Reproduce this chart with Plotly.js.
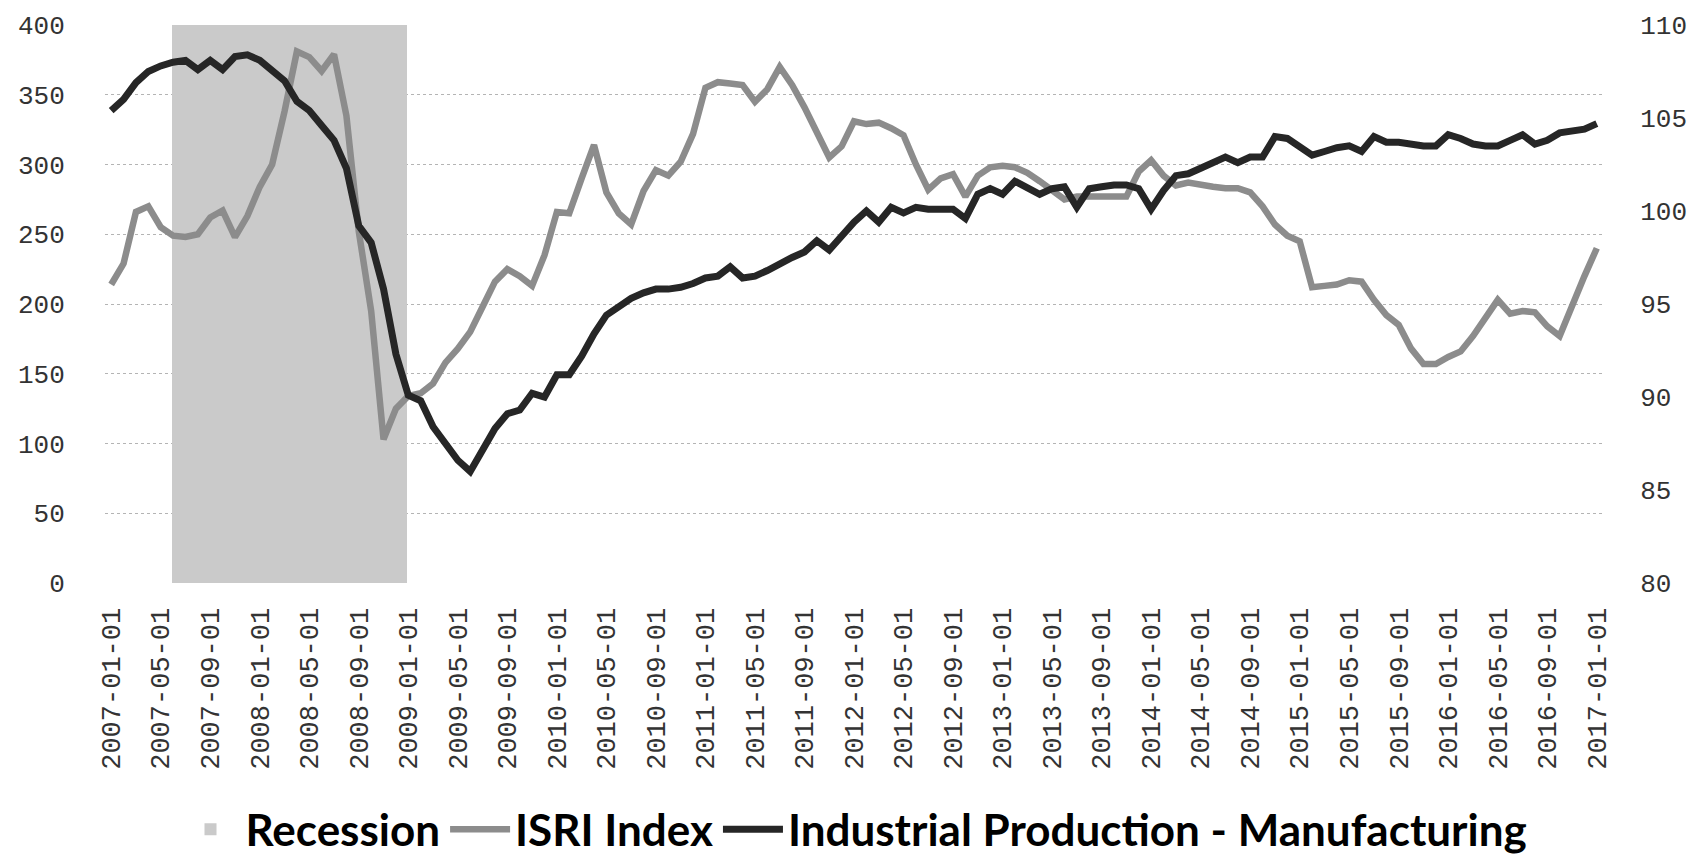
<!DOCTYPE html>
<html>
<head>
<meta charset="utf-8">
<script src="https://cdn.plot.ly/plotly-3.0.1.min.js"></script>
<style>html,body{margin:0;padding:0;background:#fff;}#chart{width:1703px;height:866px;}</style>
</head>
<body>
<div id="chart"></div>
<script>
// Monthly categories 2007-01-01 .. 2017-01-01
var months = [];
for (var y = 2007; y <= 2017; y++) {
  for (var m = 1; m <= 12; m++) {
    if (y === 2017 && m > 1) break;
    months.push(y + '-' + (m < 10 ? '0' + m : m) + '-01');
  }
}

var tickLabels = [
  '2007-01-01','2007-05-01','2007-09-01','2008-01-01','2008-05-01','2008-09-01',
  '2009-01-01','2009-05-01','2009-09-01','2010-01-01','2010-05-01','2010-09-01',
  '2011-01-01','2011-05-01','2011-09-01','2012-01-01','2012-05-01','2012-09-01',
  '2013-01-01','2013-05-01','2013-09-01','2014-01-01','2014-05-01','2014-09-01',
  '2015-01-01','2015-05-01','2015-09-01','2016-01-01','2016-05-01','2016-09-01',
  '2017-01-01'
];

var isriIndex = [
  214, 229, 266, 270, 255, 249, 248, 250, 262, 267,
  248, 263, 284, 300, 338, 381, 377, 367, 379, 335,
  252, 195, 103, 125, 134, 136, 143, 158, 168, 180,
  198, 216, 225, 220, 213, 235, 266, 265, 290, 314,
  280, 265, 257, 281, 296, 292, 302, 322, 355, 359,
  358, 357, 345, 354, 370, 357, 341, 323, 305, 313,
  331, 329, 330, 326, 321, 300, 282, 290, 293, 277,
  292, 298, 299, 298, 294, 288, 282, 275, 277, 277,
  277, 277, 277, 295, 303, 292, 285, 287, 285, 284,
  283, 283, 280, 270, 257, 249, 245, 212, 213, 214,
  217, 216, 203, 192, 185, 168, 157, 157, 162, 166,
  177, 191, 203, 193, 195, 194, 184, 177, 200, 220,
  240
];

var industrialProduction = [
  105.4, 106.0, 106.9, 107.5, 107.8, 108.0, 108.1, 107.6, 108.1, 107.6,
  108.3, 108.4, 108.1, 107.5, 107.0, 105.9, 105.4, 104.6, 103.8, 102.3,
  99.2, 98.3, 95.8, 92.3, 90.1, 89.8, 88.4, 87.5, 86.6, 86.0,
  87.2, 88.3, 89.1, 89.3, 90.2, 90.0, 91.2, 91.2, 92.2, 93.4,
  94.4, 94.9, 95.3, 95.6, 95.8, 95.8, 95.9, 96.1, 96.4, 96.5,
  97.0, 96.4, 96.5, 96.8, 97.2, 97.5, 97.8, 98.4, 97.9, 98.7,
  99.4, 100.0, 99.4, 100.2, 99.9, 100.2, 100.1, 100.1, 100.1, 99.6,
  100.9, 101.2, 100.9, 101.6, 101.3, 100.9, 101.2, 101.3, 100.2, 101.2,
  101.3, 101.4, 101.4, 101.2, 100.1, 101.1, 101.9, 102.0, 102.3, 102.6,
  102.9, 102.6, 102.9, 102.9, 104.0, 103.9, 103.5, 103.0, 103.2, 103.4,
  103.5, 103.2, 104.0, 103.7, 103.7, 103.6, 103.5, 103.5, 104.1, 103.9,
  103.6, 103.5, 103.5, 103.8, 104.1, 103.6, 103.8, 104.2, 104.3, 104.4,
  104.7
];

var recessionMonths = [
  '2007-06-01','2007-07-01','2007-08-01','2007-09-01','2007-10-01','2007-11-01',
  '2007-12-01','2008-01-01','2008-02-01','2008-03-01','2008-04-01','2008-05-01',
  '2008-06-01','2008-07-01','2008-08-01','2008-09-01','2008-10-01','2008-11-01',
  '2008-12-01'
];
var recessionTop = [400,400,400,400,400,400,400,400,400,400,400,400,400,400,400,400,400,400,400];

var monoFamily = 'Liberation Mono, DejaVu Sans Mono, monospace';

var traces = [
  {
    type: 'bar', name: 'Recession', x: recessionMonths, y: recessionTop,
    width: 1, offset: -0.12,
    marker: {color: '#cacaca', line: {width: 0}},
    yaxis: 'y', hoverinfo: 'skip'
  },
  {
    type: 'scatter', mode: 'lines', name: 'ISRI Index', x: months, y: isriIndex,
    line: {color: '#8c8c8c', width: 6.5}, yaxis: 'y'
  },
  {
    type: 'scatter', mode: 'lines', name: 'Industrial Production - Manufacturing',
    x: months, y: industrialProduction,
    line: {color: '#262626', width: 7}, yaxis: 'y2'
  }
];

var layout = {
  width: 1703, height: 866,
  margin: {l: 105, r: 100, t: 25, b: 283, pad: 0, autoexpand: false},
  paper_bgcolor: '#ffffff', plot_bgcolor: '#ffffff',
  showlegend: true,
  bargap: 0,
  xaxis: {
    type: 'category', automargin: false,
    categoryorder: 'array', categoryarray: months,
    range: [-0.5, 120.5],
    tickmode: 'array', tickvals: tickLabels, ticktext: tickLabels,
    tickangle: -90,
    ticks: 'outside', ticklen: 13, tickcolor: 'rgba(0,0,0,0)',
    tickfont: {family: monoFamily, size: 27, color: '#333333'},
    showgrid: false, zeroline: false, showline: false
  },
  yaxis: {
    automargin: false,
    range: [0, 400], dtick: 50, tick0: 0,
    ticks: 'outside', ticklen: 34, tickcolor: 'rgba(0,0,0,0)',
    tickfont: {family: monoFamily, size: 26, color: '#333333'},
    showgrid: true, gridcolor: '#b4b4b4', gridwidth: 1, griddash: 'dot',
    zeroline: false, showline: false
  },
  yaxis2: {
    automargin: false,
    overlaying: 'y', side: 'right',
    range: [80, 110], dtick: 5, tick0: 80,
    ticks: 'outside', ticklen: 31, tickcolor: 'rgba(0,0,0,0)',
    tickfont: {family: monoFamily, size: 26, color: '#333333'},
    showgrid: false, zeroline: false, showline: false
  },
  legend: {
    orientation: 'h', xref: 'paper', x: 0.5, xanchor: 'center',
    yref: 'container', y: 0.042, yanchor: 'middle',
    font: {family: 'Lato, Open Sans, sans-serif', size: 44, color: '#000000', weight: 'bold'},
    bgcolor: 'rgba(0,0,0,0)', traceorder: 'normal', itemwidth: 60
  }
};

Plotly.newPlot('chart', traces, layout, {displayModeBar: false, staticPlot: true});
</script>
</body>
</html>
